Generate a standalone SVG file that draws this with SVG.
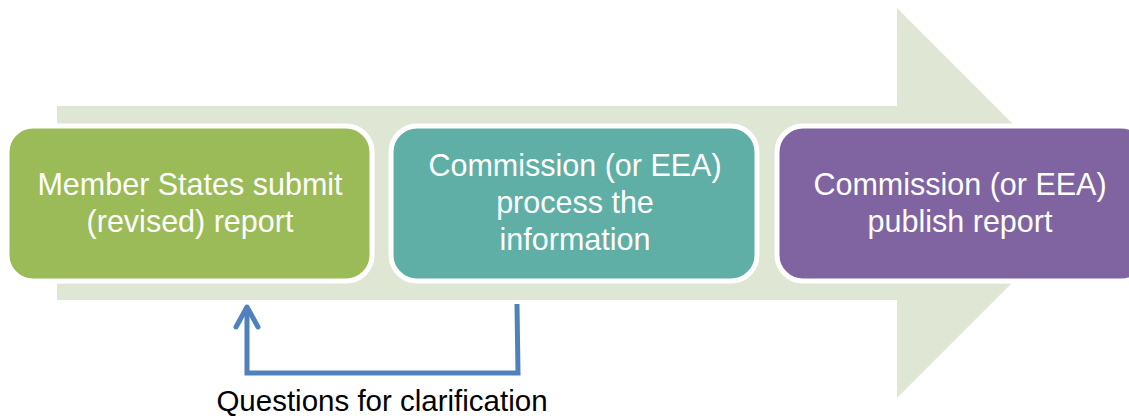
<svg xmlns="http://www.w3.org/2000/svg" width="1129" height="419" viewBox="0 0 1129 419">
<style>
.box{stroke:#ffffff;stroke-width:5}
.lbl{font-family:"Liberation Sans",Arial,sans-serif;font-size:30.5px;fill:#ffffff;text-anchor:middle}
.cap{font-family:"Liberation Sans",Arial,sans-serif;font-size:29.5px;fill:#000000;text-anchor:middle}
.conn{fill:none;stroke:#4F81BD;stroke-width:5}
</style>
<rect width="1129" height="419" fill="#ffffff"/>
<g id="bigarrow">
<polygon points="57,106 897,106 897,8 1092,203 897,398 897,300 57,300" fill="#DFE7D4"/>
</g>
<g id="node1">
<rect class="box" x="7" y="126" width="365" height="155" rx="26" fill="#9BBB59"/>
<text class="lbl" x="190" y="195">Member States submit</text>
<text class="lbl" x="190" y="232">(revised) report</text>
</g>
<g id="node2">
<rect class="box" x="391" y="126" width="366" height="155" rx="26" fill="#5FAFA6"/>
<text class="lbl" x="575" y="176">Commission (or EEA)</text>
<text class="lbl" x="575" y="213">process the</text>
<text class="lbl" x="575" y="250">information</text>
</g>
<g id="node3">
<rect class="box" x="777" y="126" width="370" height="155" rx="26" fill="#8064A2"/>
<text class="lbl" x="960" y="195">Commission (or EEA)</text>
<text class="lbl" x="960" y="232">publish report</text>
</g>
<g id="connectors">
<polyline class="conn" points="517,304 518,373 247,373 247,307"/>
<polyline class="conn" points="236,327 247,307 258,327" stroke-linecap="round" stroke-linejoin="round"/>
</g>
<text class="cap" x="382" y="411">Questions for clarification</text>
</svg>
